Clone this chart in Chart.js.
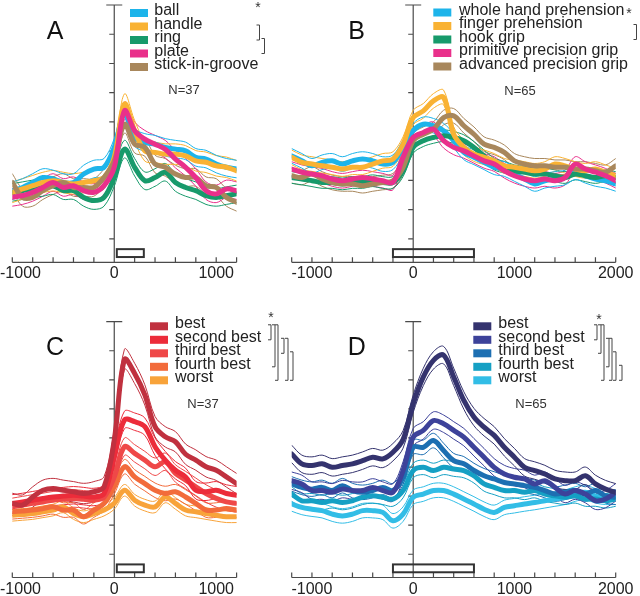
<!DOCTYPE html>
<html>
<head>
<meta charset="utf-8">
<script src="https://cdn.jsdelivr.net/npm/chart.js@4"></script>
<style>
  html, body { margin: 0; padding: 0; background: #fff; }
  #wrap { position: relative; width: 640px; height: 596px; overflow: hidden; }
  #wrap canvas { position: absolute; left: 0; top: 0; }
</style>
</head>
<body>
<div id="wrap">
  <canvas id="chartA" width="640" height="596"></canvas>
  <canvas id="chartB" width="640" height="596"></canvas>
  <canvas id="chartC" width="640" height="596"></canvas>
  <canvas id="chartD" width="640" height="596"></canvas>
</div>
<script>
// time (ms) of each sample
const timesAC = [-1000, -900, -800, -700, -600, -500, -400, -300, -200, -100, 0, 100, 200, 300, 400, 500, 600, 700, 800, 900, 1000, 1100, 1200];
const timesBD = [-1200, -1100, -1000, -900, -800, -700, -600, -500, -400, -300, -200, -100, 0, 100, 200, 300, 400, 500, 600, 700, 800, 900, 1000, 1100, 1200, 1300, 1400, 1500, 1600, 1700, 1800, 1900, 2000];

// A: objects
const objectLabels = ['ball', 'handle', 'ring', 'plate', 'stick-in-groove'];
const ballMean   = [1.65, 1.76, 1.93, 2.10, 2.05, 1.93, 1.93, 2.22, 2.39, 2.45, 3.13, 4.27, 3.47, 3.30, 3.24, 3.13, 3.07, 3.01, 2.79, 2.73, 2.56, 2.45, 2.39];
const handleMean = [1.59, 1.71, 1.82, 1.93, 1.99, 1.93, 1.88, 1.93, 1.99, 2.10, 2.79, 4.61, 3.70, 3.01, 2.96, 2.90, 2.90, 2.84, 2.67, 2.62, 2.50, 2.45, 2.33];
const ringMean   = [1.59, 1.65, 1.71, 1.76, 1.82, 1.65, 1.65, 1.42, 1.31, 1.42, 2.10, 3.07, 2.45, 1.99, 2.10, 2.28, 1.93, 1.76, 1.65, 1.48, 1.42, 1.48, 1.54];
const plateMean  = [1.42, 1.48, 1.59, 1.76, 1.93, 1.76, 1.82, 1.65, 1.59, 1.82, 2.45, 4.38, 3.70, 3.41, 3.24, 3.07, 2.73, 2.45, 2.10, 1.65, 1.54, 1.71, 1.65];
const stickMean  = [1.93, 1.42, 1.42, 1.65, 1.82, 1.93, 1.76, 1.76, 1.76, 2.10, 2.67, 3.92, 3.24, 3.13, 2.56, 2.45, 2.22, 2.10, 2.10, 1.82, 1.76, 1.42, 1.25];
const semA = [0.30, 0.35, 0.30, 0.30, 0.30];

// B: grip types
const gripLabels = ['whole hand prehension', 'finger prehension', 'hook grip', 'primitive precision grip', 'advanced precision grip'];
const wholeHandMean = [2.84, 2.67, 2.50, 2.62, 2.67, 2.56, 2.67, 2.73, 2.67, 2.56, 2.62, 3.13, 3.70, 3.92, 3.87, 3.70, 3.36, 2.96, 2.79, 2.62, 2.45, 2.39, 2.22, 2.05, 1.88, 1.99, 2.05, 2.10, 2.28, 2.16, 2.05, 1.99, 1.88];
const fingerMean    = [2.79, 2.62, 2.56, 2.50, 2.45, 2.39, 2.45, 2.45, 2.56, 2.67, 2.73, 3.24, 4.15, 4.38, 4.72, 4.84, 3.58, 3.13, 2.90, 2.79, 2.67, 2.50, 2.45, 2.39, 2.33, 2.39, 2.56, 2.50, 2.39, 2.33, 2.39, 2.28, 2.16];
const hookMean      = [2.10, 2.05, 1.99, 1.93, 1.93, 1.88, 1.93, 1.93, 1.99, 1.93, 1.93, 2.33, 3.13, 3.36, 3.47, 3.53, 3.47, 3.36, 3.13, 2.84, 2.56, 2.45, 2.33, 2.28, 2.22, 2.22, 2.16, 2.10, 2.22, 2.16, 2.10, 2.16, 2.10];
const primitiveMean = [2.39, 2.28, 2.22, 2.16, 2.05, 1.99, 2.05, 2.10, 2.05, 1.99, 1.93, 2.79, 3.47, 3.64, 3.75, 3.36, 3.13, 3.01, 2.84, 2.67, 2.56, 2.33, 2.16, 2.05, 1.99, 2.05, 1.99, 2.10, 2.56, 2.39, 2.28, 2.16, 1.99];
const advancedMean  = [2.16, 2.10, 2.22, 2.05, 1.93, 1.88, 1.88, 1.82, 1.88, 1.93, 1.99, 2.45, 3.36, 3.58, 3.75, 4.15, 4.21, 3.87, 3.58, 3.24, 3.13, 2.96, 2.67, 2.56, 2.50, 2.50, 2.45, 2.45, 2.39, 2.39, 2.33, 2.28, 2.50];
const semB = [0.25, 0.25, 0.20, 0.25, 0.25];

// C and D: ranked preference
const rankLabels = ['best', 'second best', 'third best', 'fourth best', 'worst'];
const bestC   = [1.75, 1.69, 1.97, 2.20, 2.26, 2.20, 2.15, 2.09, 2.15, 2.32, 3.93, 6.70, 6.22, 5.48, 4.39, 4.04, 3.87, 3.44, 3.24, 3.01, 2.89, 2.66, 2.43];
const secondC = [1.75, 1.80, 1.86, 1.92, 1.97, 2.00, 2.03, 2.00, 1.97, 2.09, 3.35, 4.62, 4.56, 4.39, 3.70, 3.24, 2.89, 2.66, 2.20, 2.15, 2.20, 2.09, 2.03];
const thirdC  = [1.63, 1.69, 1.75, 1.80, 1.86, 1.89, 1.92, 1.89, 1.86, 1.97, 2.66, 3.70, 3.47, 3.24, 3.01, 3.18, 2.78, 2.55, 2.32, 2.09, 1.92, 1.80, 1.75];
const fourthC = [1.46, 1.49, 1.52, 1.57, 1.63, 1.52, 1.52, 1.29, 1.52, 1.75, 2.32, 3.01, 2.66, 2.43, 2.20, 2.09, 2.15, 1.97, 1.75, 1.52, 1.52, 1.57, 1.52];
const worstC  = [1.34, 1.37, 1.40, 1.46, 1.52, 1.63, 1.40, 1.29, 1.40, 1.52, 1.75, 2.20, 1.86, 1.69, 1.63, 1.97, 1.75, 1.52, 1.46, 1.40, 1.34, 1.29, 1.29];
const semC = [0.35, 0.30, 0.30, 0.25, 0.20];

const bestD   = [3.45, 3.11, 3.05, 3.11, 2.99, 3.05, 3.11, 3.22, 3.34, 3.28, 3.51, 3.95, 5.18, 6.10, 6.67, 6.85, 6.10, 5.29, 4.72, 4.37, 4.09, 3.68, 3.34, 2.99, 2.88, 2.76, 2.59, 2.53, 2.53, 2.70, 2.42, 2.24, 2.13];
const secondD = [2.53, 2.42, 2.19, 2.19, 2.13, 2.24, 2.19, 2.19, 2.30, 2.19, 2.13, 2.88, 4.03, 4.26, 4.60, 4.49, 4.26, 4.03, 3.68, 3.34, 2.99, 2.76, 2.65, 2.59, 2.42, 2.53, 2.30, 2.07, 2.19, 2.07, 1.84, 1.90, 2.13];
const thirdD  = [2.42, 2.30, 2.24, 2.30, 2.19, 2.36, 2.19, 2.13, 2.19, 2.30, 2.19, 2.65, 3.68, 3.68, 3.91, 3.57, 3.22, 3.11, 2.88, 2.70, 2.59, 2.47, 2.42, 2.36, 2.30, 2.19, 2.07, 2.13, 2.19, 2.07, 2.19, 2.01, 1.96];
const fourthD = [2.07, 1.84, 1.84, 1.78, 1.84, 1.78, 1.84, 1.96, 2.01, 1.96, 1.90, 2.19, 2.88, 2.99, 2.88, 2.99, 2.93, 2.88, 2.70, 2.42, 2.30, 2.19, 2.19, 2.13, 2.19, 2.07, 2.01, 1.96, 2.01, 1.90, 1.90, 1.84, 1.90];
const worstD  = [1.73, 1.61, 1.55, 1.50, 1.38, 1.32, 1.38, 1.50, 1.50, 1.44, 1.15, 1.38, 1.96, 2.07, 2.19, 2.19, 2.07, 1.90, 1.73, 1.55, 1.44, 1.61, 1.67, 1.73, 1.78, 1.84, 1.90, 1.96, 2.07, 2.13, 2.01, 1.96, 1.96];
const semD = [0.30, 0.30, 0.25, 0.25, 0.25];

// analysis epochs (ms) and neuron counts
const epochAC = [25, 290];
const epochBD = [-200, 600];
const countAC = 37;
const countBD = 65;

const FONT = '"Liberation Sans", Arial, Helvetica, sans-serif';
const AXIS = '#4a4a4a';
const W = 640, H = 596;

const panels = [
  {
    id: 'chartA', times: timesAC, xMin: -1000, xMax: 1200,
    labels: objectLabels, means: [ballMean, handleMean, ringMean, plateMean, stickMean], sems: semA,
    colors: ['#1db4ea', '#f9b233', '#179a6b', '#e9308b', '#a8875c'],
    zOrder: [3, 2, 4, 0, 1],
    area: { left: 12.3, right: 236.6, top: 5, bottom: 262.3 },
    epoch: epochAC, letter: 'A', letterAt: [55, 39], count: countAC, countAt: [184, 94.3],
    swatchX: 130, textX: 154.3, baseline0: 15,
    starAt: [258, 12], brackets: [[2, 3, 259.5], [3, 4, 264.5]]
  },
  {
    id: 'chartB', times: timesBD, xMin: -1200, xMax: 2000,
    labels: gripLabels, means: [wholeHandMean, fingerMean, hookMean, primitiveMean, advancedMean], sems: semB,
    colors: ['#1db4ea', '#f9b233', '#179a6b', '#e9308b', '#a8875c'],
    zOrder: [4, 2, 3, 0, 1],
    area: { left: 291.7, right: 615.7, top: 5, bottom: 262.3 },
    epoch: epochBD, letter: 'B', letterAt: [356.7, 38.5], count: countBD, countAt: [520, 95],
    swatchX: 433.3, textX: 459, baseline0: 14.5,
    starAt: [629, 18], brackets: [[2, 3, 636.5]]
  },
  {
    id: 'chartC', times: timesAC, xMin: -1000, xMax: 1200,
    labels: rankLabels, means: [bestC, secondC, thirdC, fourthC, worstC], sems: semC,
    colors: ['#c0313f', '#ec2c3a', '#ef4848', '#f26b3b', '#f8a33a'],
    zOrder: [0, 1, 2, 3, 4],
    area: { left: 12.3, right: 236.6, top: 321.7, bottom: 577.5 },
    epoch: epochAC, letter: 'C', letterAt: [55, 354.5], count: countAC, countAt: [203, 407.5],
    swatchX: 150, textX: 175, baseline0: 328.3,
    starAt: [271, 322], brackets: [[1, 2, 271], [1, 4, 275], [1, 5, 278], [2, 3, 284], [2, 5, 288], [3, 5, 293]]
  },
  {
    id: 'chartD', times: timesBD, xMin: -1200, xMax: 2000,
    labels: rankLabels, means: [bestD, secondD, thirdD, fourthD, worstD], sems: semD,
    colors: ['#34336e', '#3d429a', '#1d6fb2', '#15a0c4', '#32bde6'],
    zOrder: [0, 1, 2, 3, 4],
    area: { left: 291.7, right: 615.7, top: 321.7, bottom: 577.5 },
    epoch: epochBD, letter: 'D', letterAt: [356.7, 354.5], count: countBD, countAt: [531, 407.5],
    swatchX: 473.3, textX: 498.3, baseline0: 328.3,
    starAt: [599, 324], brackets: [[1, 2, 597], [1, 3, 601], [1, 5, 604], [2, 4, 609], [2, 5, 612], [3, 5, 616], [4, 5, 622]]
  }
];

function decorations(p) {
  return {
    id: 'decor_' + p.id,
    beforeDatasetsDraw(chart) {
      const { ctx, chartArea: a, scales: { x, y } } = chart;
      const x0 = x.getPixelForValue(0);
      ctx.save();
      ctx.strokeStyle = AXIS;
      ctx.lineWidth = 1.2;
      ctx.beginPath();
      // vertical line at movement onset, with ticks on its left
      ctx.moveTo(x0, a.top); ctx.lineTo(x0, a.bottom);
      const yTop = y.getPixelForValue(8);
      ctx.moveTo(x0 - 8, yTop); ctx.lineTo(x0 + 8, yTop);
      for (let v = 0; v < 8; v++) {
        const py = y.getPixelForValue(v);
        ctx.moveTo(x0 - 5, py); ctx.lineTo(x0, py);
      }
      // time axis with upward ticks
      ctx.moveTo(a.left, a.bottom); ctx.lineTo(a.right, a.bottom);
      x.ticks.forEach(t => {
        if (t.value === 0) return;
        const px = x.getPixelForValue(t.value);
        ctx.moveTo(px, a.bottom); ctx.lineTo(px, a.bottom - 5);
      });
      ctx.stroke();

      ctx.fillStyle = '#222';
      ctx.font = '16px ' + FONT;
      ctx.textAlign = 'center';
      ctx.textBaseline = 'alphabetic';
      x.ticks.forEach(t => {
        if (t.value % 1000 !== 0) return;
        const label = String(t.value);
        const w = ctx.measureText(label).width;
        let px = x.getPixelForValue(t.value);
        if (px - w / 2 < 0) px = w / 2;
        ctx.fillText(label, px, a.bottom + 16);
      });
      ctx.restore();
    },
    afterDatasetsDraw(chart) {
      const { ctx, scales: { x, y } } = chart;
      ctx.save();
      // analysis epoch box
      const bx0 = x.getPixelForValue(p.epoch[0]);
      const bx1 = x.getPixelForValue(p.epoch[1]);
      const by0 = y.getPixelForValue(-0.35);
      const by1 = y.getPixelForValue(-0.62);
      ctx.strokeStyle = '#333';
      ctx.lineWidth = 2;
      ctx.strokeRect(bx0, by0, bx1 - bx0, by1 - by0);

      // legend
      ctx.font = '16px ' + FONT;
      ctx.textAlign = 'left';
      ctx.textBaseline = 'alphabetic';
      p.labels.forEach((lab, i) => {
        const base = p.baseline0 + 13.5 * i;
        ctx.fillStyle = p.colors[i];
        ctx.fillRect(p.swatchX, base - 6, 18, 8);
        ctx.fillStyle = '#222';
        ctx.fillText(lab, p.textX, base);
      });

      // panel letter
      ctx.font = '25px ' + FONT;
      ctx.textAlign = 'center';
      ctx.fillStyle = '#111';
      ctx.fillText(p.letter, p.letterAt[0], p.letterAt[1]);

      // N
      ctx.font = '13px ' + FONT;
      ctx.fillStyle = '#333';
      ctx.fillText('N=' + p.count, p.countAt[0], p.countAt[1]);

      // significance star and brackets
      ctx.font = '14px ' + FONT;
      ctx.fillText('*', p.starAt[0], p.starAt[1]);
      ctx.strokeStyle = '#444';
      ctx.lineWidth = 1;
      ctx.beginPath();
      p.brackets.forEach(([r0, r1, bx]) => {
        const t0 = p.baseline0 + 13.5 * (r0 - 1) - 3.5;
        const t1 = p.baseline0 + 13.5 * (r1 - 1) - 2;
        ctx.moveTo(bx - 3, t0); ctx.lineTo(bx, t0); ctx.lineTo(bx, t1); ctx.lineTo(bx - 3, t1);
      });
      ctx.stroke();
      ctx.restore();
    }
  };
}

function buildDatasets(p) {
  const sets = [];
  p.means.forEach((mean, i) => {
    const color = p.colors[i];
    [-1, 1].forEach(sign => {
      sets.push({
        label: p.labels[i] + (sign < 0 ? ' -sem' : ' +sem'),
        data: p.times.map((t, k) => ({ x: t, y: mean[k] + sign * p.sems[i] })),
        borderColor: color,
        borderWidth: 1,
        order: 10
      });
    });
    sets.push({
      label: p.labels[i],
      data: p.times.map((t, k) => ({ x: t, y: mean[k] })),
      borderColor: color,
      borderWidth: 5,
      order: p.zOrder[i]
    });
  });
  return sets;
}

panels.forEach(p => {
  new Chart(document.getElementById(p.id), {
    type: 'line',
    data: { datasets: buildDatasets(p) },
    options: {
      responsive: false,
      animation: false,
      events: [],
      layout: { padding: { left: p.area.left, right: W - p.area.right, top: p.area.top, bottom: H - p.area.bottom } },
      plugins: { legend: { display: false }, tooltip: { enabled: false } },
      elements: {
        point: { radius: 0 },
        line: { tension: 0.35, borderCapStyle: 'round', borderJoinStyle: 'round', fill: false }
      },
      scales: {
        x: {
          type: 'linear', min: p.xMin, max: p.xMax,
          ticks: { display: false, stepSize: 200 },
          grid: { display: false, drawTicks: false },
          border: { display: false },
          afterFit(s) { s.height = 0; s.paddingLeft = 0; s.paddingRight = 0; }
        },
        y: { type: 'linear', min: -0.8, max: 8, display: false }
      }
    },
    plugins: [decorations(p)]
  });
});
</script>
</body>
</html>
